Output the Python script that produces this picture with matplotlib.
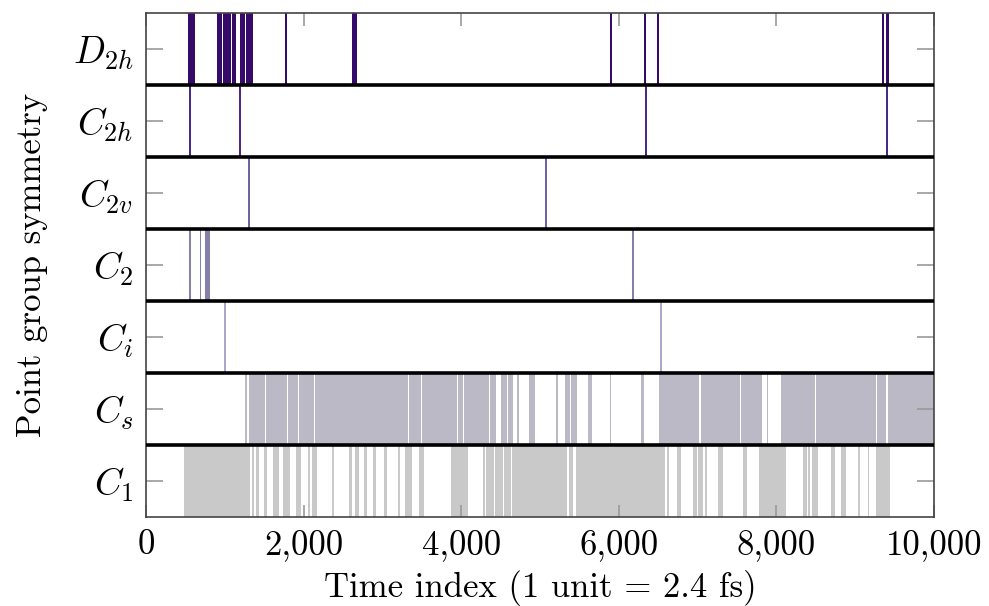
import matplotlib
matplotlib.use('Agg')
from matplotlib import pyplot as plt

plt.rcParams['font.family'] = 'serif'
plt.rcParams['font.serif'] = ['cmr10', 'DejaVu Serif']
plt.rcParams['mathtext.fontset'] = 'cm'
plt.rcParams['axes.formatter.use_mathtext'] = True

# symmetry labels, bottom row first
groups = [r'$C_1$', r'$C_s$', r'$C_i$', r'$C_2$', r'$C_{2v}$', r'$C_{2h}$', r'$D_{2h}$']
colors = ['#c9c9c9', '#bab9c5', '#a9a8c8', '#8580aa', '#6c64a6', '#4a2a85', '#360a68']

# time windows (start, end) in which each symmetry was found
C1_spans = [(486, 1320), (1341, 1371), (1392, 1434), (1497, 1539), (1607, 1688), (1743, 1827),
            (1904, 1963), (2060, 2081), (2102, 2166), (2356, 2389), (2576, 2618), (2652, 2703),
            (2766, 2801), (2877, 2919), (3020, 3055), (3202, 3223), (3287, 3376), (3468, 3528),
            (3871, 4082), (4281, 4300), (4312, 4415), (4426, 4528), (4540, 4636), (4647, 5339),
            (5368, 5423), (5453, 6586), (6607, 6641), (6734, 6786), (6946, 6988), (7009, 7072),
            (7094, 7115), (7255, 7319), (7580, 7623), (7779, 8118), (8342, 8384), (8405, 8424),
            (8447, 8524), (8693, 8744), (8816, 8879), (9040, 9061), (9159, 9180), (9264, 9442)]
Cs_spans = [(1262, 1284), (1311, 1510), (1520, 1788), (1798, 1932), (1942, 2131), (2141, 2647),
            (2657, 3328), (3338, 3490), (3500, 3951), (3963, 4019), (4036, 4353), (4365, 4438),
            (4501, 4577), (4598, 4661), (4704, 4734), (4860, 4937), (5203, 5232), (5321, 5385),
            (5392, 5474), (5613, 5656), (5886, 5906), (6278, 6316), (6510, 7017), (7043, 7538),
            (7553, 7813), (7876, 7896), (8054, 8494), (8504, 9265), (9280, 9385), (9412, 10000)]
Ci_spans = [(992, 1014), (6525, 6546)]
C2_spans = [(544, 566), (684, 704), (749, 808), (6168, 6193)]
C2v_spans = [(1296, 1318), (5065, 5087)]
C2h_spans = [(544, 566), (1178, 1200), (6338, 6360), (9393, 9415)]
D2h_spans = [(536, 617), (905, 961), (973, 1024), (1032, 1079), (1095, 1142), (1193, 1260),
             (1275, 1354), (1765, 1788), (2618, 2674), (5886, 5908), (6322, 6347), (6487, 6516),
             (9342, 9360), (9391, 9429)]
all_spans = [C1_spans, Cs_spans, Ci_spans, C2_spans, C2v_spans, C2h_spans, D2h_spans]

x_ticks = [0, 2000, 4000, 6000, 8000, 10000]
x_ticklabels = ['0', '2,000', '4,000', '6,000', '8,000', '10,000']

fig = plt.figure(figsize=(9.89, 6.06), dpi=100)
ax = fig.add_axes([0.1476, 0.1469, 0.7968, 0.8316])

for i, spans in enumerate(all_spans):
    bars = [(s, e - s) for s, e in spans]
    ax.broken_barh(bars, (i, 1), facecolors=colors[i], edgecolor='none', linewidth=0)

for i in range(1, len(groups)):
    ax.axhline(i, color='black', linewidth=2.6, zorder=5)

ax.set_xlim(0, 10000)
ax.set_ylim(0, len(groups))
ax.set_xticks(x_ticks)
ax.set_xticklabels(x_ticklabels)
ax.set_yticks([i + 0.5 for i in range(len(groups))])
ax.set_yticklabels(groups)
ax.tick_params(axis='both', direction='in', top=True, right=True, color='#999999',
               length=9, width=1.2, pad=9)
ax.tick_params(axis='x', labelsize=25)
ax.tick_params(axis='y', length=12, labelsize=27)
for side in ['left', 'bottom', 'top', 'right']:
    ax.spines[side].set_color('#444444')
    ax.spines[side].set_linewidth(1.2)

ax.set_xlabel('Time index (1 unit = 2.4 fs)', fontsize=25, labelpad=6)
ax.set_ylabel('Point group symmetry', fontsize=25, labelpad=18)

plt.savefig('out.png', dpi=100)
plt.close()
